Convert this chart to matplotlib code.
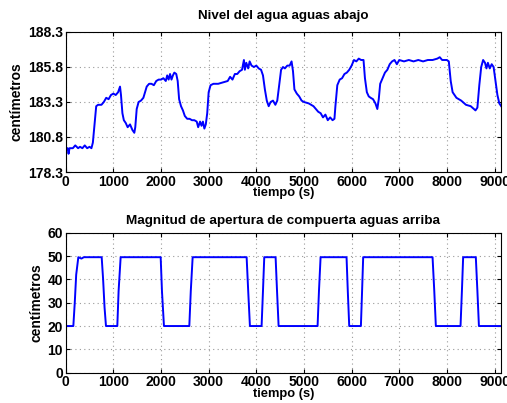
import numpy as np
import matplotlib
matplotlib.use("Agg")
import matplotlib.pyplot as plt

plt.rcParams['font.family'] = ['Liberation Sans', 'DejaVu Sans']
plt.rcParams['font.weight'] = 'bold'

# Nivel del agua aguas abajo (cm) vs tiempo (s)
t_nivel = [0, 40, 60, 80, 150, 200, 260, 300, 350, 400, 450, 500, 540, 570, 600, 640, 680, 750, 800,
           850, 900, 950, 1000, 1050, 1100, 1140, 1160, 1190, 1220, 1260, 1300, 1350, 1400, 1440, 1460,
           1490, 1530, 1580, 1630, 1700, 1750, 1800, 1850, 1900, 1950, 2000, 2050, 2100, 2130, 2160,
           2190, 2220, 2250, 2280, 2320, 2350, 2380, 2420, 2460, 2500, 2550, 2600, 2650, 2700, 2750,
           2780, 2820, 2850, 2880, 2910, 2940, 2970, 3000, 3040, 3100, 3200, 3300, 3400, 3450, 3500,
           3550, 3600, 3650, 3700, 3740, 3760, 3790, 3830, 3860, 3900, 3950, 4000, 4050, 4100, 4140,
           4180, 4220, 4260, 4300, 4350, 4400, 4440, 4480, 4520, 4560, 4600, 4650, 4700, 4740, 4770,
           4800, 4850, 4900, 4950, 5000, 5100, 5200, 5300, 5350, 5400, 5450, 5500, 5550, 5600, 5640,
           5660, 5700, 5750, 5800, 5850, 5900, 5950, 6000, 6050, 6100, 6150, 6200, 6250, 6280, 6320,
           6360, 6400, 6450, 6500, 6540, 6570, 6600, 6650, 6700, 6750, 6800, 6850, 6900, 6950, 7000,
           7100, 7200, 7300, 7400, 7500, 7600, 7700, 7800, 7850, 7900, 7950, 8000, 8040, 8080, 8120,
           8160, 8200, 8300, 8400, 8500, 8600, 8640, 8680, 8720, 8760, 8800, 8830, 8860, 8900, 8940,
           8980, 9020, 9060, 9100, 9140]
nivel = [180.0, 180.0, 179.6, 180.0, 180.0, 180.2, 180.0, 180.1, 180.0, 180.2, 180.0, 180.1, 180.0,
         180.4, 181.5, 183.0, 183.1, 183.1, 183.3, 183.6, 183.5, 183.8, 183.9, 183.8, 184.0, 184.4,
         183.8, 182.5, 182.0, 181.8, 181.5, 181.7, 181.3, 181.1, 181.5, 182.8, 183.3, 183.4, 183.6,
         184.4, 184.6, 184.6, 184.5, 184.8, 184.9, 184.9, 185.0, 184.8, 185.2, 184.9, 185.3, 184.9,
         185.2, 185.4, 185.3, 184.8, 183.5, 183.0, 182.7, 182.3, 182.1, 182.1, 182.0, 182.0, 181.9,
         181.5, 181.9, 181.6, 181.9, 181.4, 181.7, 182.5, 184.0, 184.5, 184.6, 184.6, 184.7, 184.8,
         185.1, 184.9, 185.3, 185.3, 185.5, 185.6, 186.3, 185.6, 186.1, 185.7, 186.2, 185.9, 185.8,
         185.9, 185.7, 185.6, 185.2, 184.2, 183.4, 183.0, 183.3, 183.4, 183.1, 183.4, 184.5, 185.6,
         185.8, 185.7, 185.9, 185.9, 186.2, 185.5, 184.2, 183.9, 183.7, 183.4, 183.3, 183.2, 183.0,
         182.6, 182.5, 182.2, 182.4, 182.0, 182.2, 182.0, 182.1, 183.0, 184.5, 184.9, 185.0, 185.3,
         185.4, 185.6, 185.9, 186.3, 186.2, 186.4, 186.3, 186.3, 185.0, 184.0, 183.7, 183.6, 183.5,
         183.2, 182.8, 183.5, 184.6, 185.0, 185.4, 185.6, 186.0, 186.2, 186.3, 186.0, 186.3, 186.2,
         186.3, 186.2, 186.3, 186.2, 186.3, 186.3, 186.4, 186.5, 186.3, 186.3, 186.3, 186.2, 184.8,
         184.0, 183.8, 183.6, 183.4, 183.1, 183.0, 182.7, 182.9, 184.5, 185.8, 186.3, 186.1, 185.7,
         186.1, 185.7, 186.0, 185.8, 184.8, 183.8, 183.2, 183.0]

# Magnitud de apertura de compuerta aguas arriba (cm)
t_comp = [0, 160, 190, 220, 265, 330, 380, 755, 785, 815, 845, 1083, 1110, 1153, 1993, 2020, 2062,
          2594, 2625, 2664, 3797, 3830, 3866, 4111, 4140, 4167, 4405, 4435, 4468, 5286, 5315, 5349,
          5894, 5920, 5950, 6195, 6220, 6243, 7699, 7735, 7768, 8286, 8315, 8341, 8607, 8640, 8672, 9140]
apertura = [20, 20, 30, 42, 49.5, 48.9, 49.5, 49.5, 40, 28, 20, 20, 35, 49.5, 49.5, 35, 20,
            20, 35, 49.5, 49.5, 35, 20, 20, 35, 49.5, 49.5, 35, 20, 20, 35, 49.5,
            49.5, 35, 20, 20, 35, 49.5, 49.5, 35, 20, 20, 35, 49.5, 49.5, 35, 20, 20]

x_ticks = [0, 1000, 2000, 3000, 4000, 5000, 6000, 7000, 8000, 9000]
nivel_ticks = [178.3, 180.8, 183.3, 185.8, 188.3]
comp_ticks = [0, 10, 20, 30, 40, 50, 60]

fig = plt.figure(figsize=(5.07, 4.03), dpi=100)
ax1 = fig.add_axes([0.1296, 0.5732, 0.859, 0.3474])
ax2 = fig.add_axes([0.1296, 0.0752, 0.859, 0.3474])

for ax in (ax1, ax2):
    ax.set_xlim(0, 9140)
    ax.set_xticks(x_ticks)
    ax.grid(True, color='#999999', linestyle=(0, (1, 3)), linewidth=0.8)
    ax.tick_params(direction='in', top=True, right=True, labelsize=10, length=3, pad=2)
    for lab in ax.get_xticklabels() + ax.get_yticklabels():
        lab.set_fontweight('bold')
    for s in ax.spines.values():
        s.set_linewidth(0.8)
    ax.set_xlabel('tiempo (s)', fontsize=9.3, fontweight='bold', labelpad=-1)
    ax.set_ylabel('centímetros', fontsize=10, fontweight='bold', labelpad=3)

ax1.plot(t_nivel, nivel, color='#0000ff', linewidth=1.4)
ax1.set_ylim(178.3, 188.3)
ax1.set_yticks(nivel_ticks)
ax1.set_yticklabels(['%.1f' % v for v in nivel_ticks], fontweight='bold')
ax1.set_title('Nivel del agua aguas abajo', fontsize=9.6, fontweight='bold', pad=9)

ax2.plot(t_comp, apertura, color='#0000ff', linewidth=1.4)
ax2.set_ylim(0, 60)
ax2.set_yticks(comp_ticks)
ax2.set_yticklabels([str(v) for v in comp_ticks], fontweight='bold')
ax2.set_title('Magnitud de apertura de compuerta aguas arriba', fontsize=9.7, fontweight='bold', pad=6)

fig.savefig('out.png', dpi=100)
